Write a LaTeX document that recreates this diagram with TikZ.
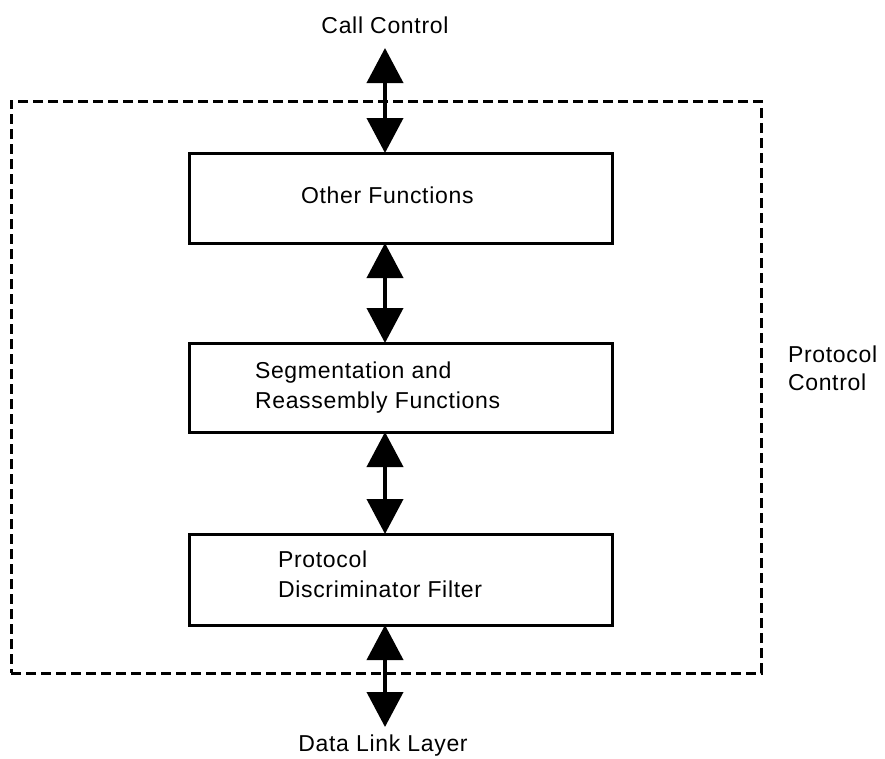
\documentclass[tikz,border=0pt]{standalone}
\usepackage{fontspec}
\setmainfont{Liberation Sans}[LetterSpace=3]
\usetikzlibrary{arrows.meta}
\tikzset{
  blk/.style={draw, line width=3pt, minimum width=423pt, inner sep=0pt, outer sep=0pt},
  lbl/.style={inner sep=0pt, outer sep=0pt, font=\fontsize{23}{28}\selectfont},
  frame/.style={draw, line width=3pt, dash pattern=on 10pt off 5pt, minimum width=750pt, minimum height=572pt, inner sep=0pt, outer sep=0pt},
  dbl/.style={line width=4pt, {Triangle[width=36pt,length=35pt]}-{Triangle[width=36pt,length=35pt]}}
}
\begin{document}
\begin{tikzpicture}[x=1pt,y=-1pt]
\useasboundingbox (0,0) rectangle (885,758);
\node[frame] (fr) at (386,387) {};
\node[blk, minimum height=90pt] (b1) at (400.5,198) {};
\node[blk, minimum height=89pt] (b2) at (400.5,387.5) {};
\node[blk, minimum height=91pt] (b3) at (400.5,579.5) {};
\coordinate (ax) at (385,0);
\coordinate (top) at (385,48);
\coordinate (bot) at (385,727);
\draw[dbl] (top) -- (b1.north -| ax);
\draw[dbl] (b1.south -| ax) -- (b2.north -| ax);
\draw[dbl] (b2.south -| ax) -- (b3.north -| ax);
\draw[dbl] (b3.south -| ax) -- (bot);
\node[lbl, anchor=base] (cc) at (385,33) {Call Control};
\node[lbl, anchor=base] (dl) at (383,751) {Data Link Layer};
\node[lbl, anchor=base west] (of) at (301,203) {Other Functions};
\node[lbl, anchor=base west] (s1) at (255,378) {Segmentation and};
\node[lbl, anchor=base west] (s2) at (255,408) {Reassembly Functions};
\node[lbl, anchor=base west] (p1) at (278,567) {Protocol};
\node[lbl, anchor=base west] (p2) at (278,597) {Discriminator Filter};
\node[lbl, anchor=base west] (pc1) at (788,362) {Protocol};
\node[lbl, anchor=base west] (pc2) at (788,390) {Control};
\end{tikzpicture}
\end{document}
